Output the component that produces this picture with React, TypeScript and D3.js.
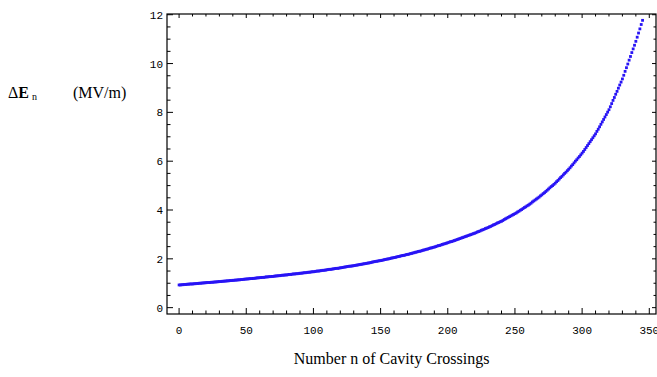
import React from "react";
import * as d3 from "d3";

// ΔE_n values, one per cavity crossing n = 0, 1, 2, ...
const deltaE: number[] = [
  0.93, 0.93, 0.94, 0.94, 0.95, 0.95, 0.96, 0.96, 0.97, 0.97,
  0.97, 0.98, 0.98, 0.99, 0.99, 1.0, 1.0, 1.01, 1.01, 1.02,
  1.02, 1.03, 1.03, 1.03, 1.04, 1.04, 1.05, 1.05, 1.06, 1.06,
  1.07, 1.07, 1.08, 1.08, 1.09, 1.09, 1.1, 1.1, 1.11, 1.11,
  1.12, 1.12, 1.13, 1.13, 1.14, 1.14, 1.15, 1.15, 1.16, 1.17,
  1.17, 1.18, 1.18, 1.19, 1.19, 1.2, 1.2, 1.21, 1.22, 1.22,
  1.23, 1.23, 1.24, 1.24, 1.25, 1.26, 1.26, 1.27, 1.27, 1.28,
  1.28, 1.29, 1.3, 1.3, 1.31, 1.31, 1.32, 1.33, 1.33, 1.34,
  1.34, 1.35, 1.36, 1.36, 1.37, 1.38, 1.38, 1.39, 1.39, 1.4,
  1.41, 1.41, 1.42, 1.43, 1.43, 1.44, 1.45, 1.45, 1.46, 1.47,
  1.47, 1.48, 1.49, 1.5, 1.5, 1.51, 1.52, 1.53, 1.53, 1.54,
  1.55, 1.56, 1.57, 1.57, 1.58, 1.59, 1.6, 1.61, 1.61, 1.62,
  1.63, 1.64, 1.65, 1.66, 1.67, 1.68, 1.69, 1.7, 1.7, 1.71,
  1.72, 1.73, 1.74, 1.75, 1.76, 1.77, 1.78, 1.79, 1.8, 1.81,
  1.82, 1.83, 1.84, 1.85, 1.87, 1.88, 1.89, 1.9, 1.91, 1.92,
  1.93, 1.94, 1.95, 1.97, 1.98, 1.99, 2.0, 2.01, 2.03, 2.04,
  2.05, 2.06, 2.08, 2.09, 2.1, 2.12, 2.13, 2.14, 2.15, 2.17,
  2.18, 2.19, 2.21, 2.22, 2.24, 2.25, 2.27, 2.28, 2.3, 2.31,
  2.32, 2.34, 2.36, 2.37, 2.39, 2.4, 2.42, 2.44, 2.45, 2.47,
  2.48, 2.5, 2.52, 2.54, 2.55, 2.57, 2.59, 2.61, 2.62, 2.64,
  2.66, 2.68, 2.7, 2.71, 2.73, 2.75, 2.77, 2.79, 2.81, 2.83,
  2.85, 2.87, 2.89, 2.91, 2.93, 2.95, 2.97, 2.99, 3.01, 3.03,
  3.05, 3.07, 3.1, 3.12, 3.14, 3.17, 3.19, 3.21, 3.24, 3.26,
  3.28, 3.31, 3.33, 3.36, 3.39, 3.41, 3.44, 3.47, 3.49, 3.52,
  3.54, 3.57, 3.61, 3.64, 3.67, 3.7, 3.73, 3.76, 3.79, 3.82,
  3.85, 3.88, 3.92, 3.95, 3.99, 4.02, 4.06, 4.1, 4.13, 4.17,
  4.2, 4.24, 4.28, 4.33, 4.37, 4.41, 4.45, 4.49, 4.53, 4.58,
  4.62, 4.67, 4.71, 4.76, 4.81, 4.86, 4.91, 4.96, 5.0, 5.05,
  5.1, 5.16, 5.21, 5.27, 5.33, 5.38, 5.44, 5.5, 5.55, 5.61,
  5.67, 5.73, 5.8, 5.86, 5.93, 6.0, 6.06, 6.13, 6.19, 6.26,
  6.33, 6.4, 6.48, 6.56, 6.64, 6.72, 6.8, 6.88, 6.96, 7.04,
  7.12, 7.22, 7.31, 7.41, 7.51, 7.61, 7.71, 7.81, 7.91, 8.01,
  8.11, 8.23, 8.36, 8.49, 8.61, 8.74, 8.86, 8.99, 9.12, 9.24,
  9.37, 9.52, 9.68, 9.83, 9.98, 10.14, 10.29, 10.45, 10.6, 10.75,
  10.91, 11.08, 11.25, 11.42, 11.6, 11.77,
];

const xTicks: number[] = [0, 50, 100, 150, 200, 250, 300, 350];
const yTicks: number[] = [0, 2, 4, 6, 8, 10, 12];
const xTitle = "Number n of Cavity Crossings";

const W = 657;
const H = 377;
const FL = 167;
const FR = 656;
const FT = 14;
const FB = 314;

export default function App() {
  const x = d3.scaleLinear().domain([-9, 355]).range([FL, FR]);
  const y = d3.scaleLinear().domain([-0.26, 12.03]).range([FB, FT]);

  const xMinor = d3.range(0, 351, 10).filter((v) => v % 50 !== 0);
  const yMinor = d3.range(0, 12.01, 0.5).filter((v) => Math.abs(v % 2) > 1e-9);

  const tickFont = "'Liberation Mono', 'DejaVu Sans Mono', monospace";
  const serif = "'Liberation Serif', 'Times New Roman', serif";
  const dotColor = "rgb(40,20,245)";

  return (
    <svg
      width={W}
      height={H}
      style={{ position: "absolute", left: 0, top: 0, background: "#fff" }}
    >
      <rect x={0} y={0} width={W} height={H} fill="#fff" />
      {/* data points */}
      <g>
        {deltaE.map((v, i) => (
          <rect
            key={i}
            x={x(i) - 1.4}
            y={y(v) - 1.4}
            width={2.8}
            height={2.8}
            fill={dotColor}
          />
        ))}
      </g>
      {/* frame */}
      <rect
        x={FL}
        y={FT}
        width={FR - FL}
        height={FB - FT}
        fill="none"
        stroke="#000"
        strokeWidth={1.2}
      />
      {/* ticks on all four sides, pointing inward */}
      <g stroke="#000" strokeWidth={1}>
        {xTicks.map((t) => (
          <g key={"xt" + t}>
            <line x1={x(t)} x2={x(t)} y1={FB} y2={FB - 6} />
            <line x1={x(t)} x2={x(t)} y1={FT} y2={FT + 4} />
          </g>
        ))}
        {xMinor.map((t) => (
          <g key={"xm" + t}>
            <line x1={x(t)} x2={x(t)} y1={FB} y2={FB - 3.5} />
            <line x1={x(t)} x2={x(t)} y1={FT} y2={FT + 2.5} />
          </g>
        ))}
        {yTicks.map((t) => (
          <g key={"yt" + t}>
            <line x1={FL} x2={FL + 6} y1={y(t)} y2={y(t)} />
            <line x1={FR} x2={FR - 4} y1={y(t)} y2={y(t)} />
          </g>
        ))}
        {yMinor.map((t) => (
          <g key={"ym" + t}>
            <line x1={FL} x2={FL + 3.5} y1={y(t)} y2={y(t)} />
            <line x1={FR} x2={FR - 2.5} y1={y(t)} y2={y(t)} />
          </g>
        ))}
      </g>
      {/* tick labels */}
      <g fontFamily={tickFont} fontSize={11} fill="#000">
        {xTicks.map((t) => (
          <text key={"xl" + t} x={x(t)} y={334} textAnchor="middle">
            {t}
          </text>
        ))}
        {yTicks.map((t) => (
          <text key={"yl" + t} x={163} y={y(t) + 4} textAnchor="end">
            {t}
          </text>
        ))}
      </g>
      {/* axis titles */}
      <text x={8} y={98} fontFamily={serif} fontSize={16} fill="#000">
        <tspan>Δ</tspan>
        <tspan fontWeight="bold">E</tspan>
        <tspan fontSize={10} dx={3} dy={2}>n</tspan>
        <tspan x={73} dy={-2}>(MV/m)</tspan>
      </text>
      <text
        x={391.6}
        y={364}
        textAnchor="middle"
        fontFamily={serif}
        fontSize={16}
        fill="#000"
      >
        {xTitle}
      </text>
    </svg>
  );
}
